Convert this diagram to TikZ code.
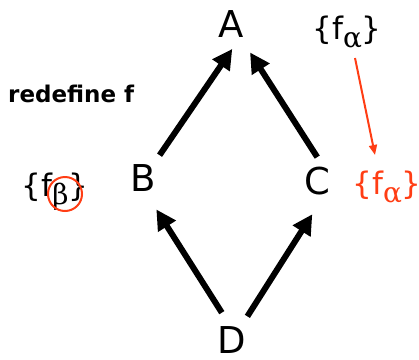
\documentclass[tikz,border=0pt]{standalone}
\usepackage{fontspec}
\setmainfont{DejaVu Sans}
\newfontfamily\greekfont{DejaVu Serif}
\usepackage{xcolor}
\usepackage{tikz}
\usetikzlibrary{positioning,arrows.meta,shapes.geometric,calc}
\definecolor{accent}{HTML}{FF3D14}
% lowered greek index
\newcommand{\lowidx}[1]{\raisebox{-8pt}{\fontsize{28}{28}\selectfont\greekfont #1}}

\begin{document}
\begin{tikzpicture}[
  x=1pt, y=-1pt,
  vertex/.style={circle, inner sep=0pt, minimum size=56pt, font=\fontsize{37}{44}\selectfont},
  setlbl/.style={inner sep=0pt, anchor=base, font=\fontsize{31}{36}\selectfont},
  arr/.style={-{Triangle[length=20pt,width=20pt]}, line width=6pt},
  redarr/.style={-{Triangle[length=10pt,width=8pt]}, line width=2pt, color=accent}
]
  \useasboundingbox (0,0) rectangle (419,359);

  % Lattice: D at bottom, A at top
  \node[vertex] (A) at (231,24) {A};
  \node[vertex] (B) at (143,178) {B};
  \node[vertex] (C) at (317,181) {C};
  \node[vertex] (D) at (232,340) {D};

  \draw[arr, shorten >=-4pt] (B.54) -- (A.-92);
  \draw[arr, shorten <=-5pt, shorten >=6pt] (C.95) -- (A.-56);
  \draw[arr, shorten <=1pt, shorten >=6pt] (D.110) -- (B.-69);
  \draw[arr, shorten >=6pt] (D.57) -- (C.-93);

  % Set labels
  \node[setlbl] (fatop) at (347,39) {\{f\lowidx{α}\}};
  \node[setlbl, text=accent] (fared) at (387,194) {\{f\lowidx{α}\}};
  \node[setlbl] (fbeta) at (55,196) {\{f\lowidx{β}\}};
  \node[draw=accent, ellipse, line width=2pt, minimum width=34pt, minimum height=34pt] (ring) at ($(fbeta.base)+(10,-2)$) {};

  \draw[redarr] ($(fatop.base)+(8,19)$) -- ($(fared.base)+(-12,-39)$);

  \node[font=\bfseries\fontsize{23}{28}\selectfont, anchor=base west, inner sep=0pt] (redef) at (8,102) {redefine f};

\end{tikzpicture}
\end{document}
